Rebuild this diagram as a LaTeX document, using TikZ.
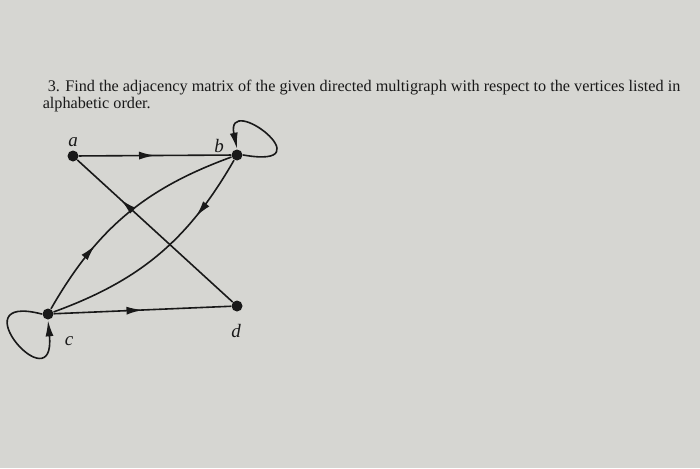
\documentclass[tikz,border=0pt]{standalone}
\usepackage{fontspec}
\setmainfont{Liberation Serif}
\usetikzlibrary{arrows.meta,decorations.markings}
\definecolor{paper}{RGB}{214,214,210}
\definecolor{ink}{RGB}{25,25,25}
\begin{document}
\begin{tikzpicture}[x=1pt,y=1pt,line join=round,line cap=round,line width=1.6pt,draw=ink]
	\tikzset{vertex/.style={circle,fill=ink,inner sep=0pt,minimum size=11pt},
		vlabel/.style={font=\fontsize{19}{21}\selectfont\itshape,text=ink},
		tip/.style={-{Latex[length=16pt,width=8pt]}},
		mid arrow/.style={postaction={decorate},decoration={markings,
			mark=at position #1 with {\arrow{Latex[length=16pt,width=8pt]}}}}}
	\fill[paper] (0,0) rectangle (700,-468);
	\useasboundingbox (0,0) rectangle (700,-468);
	% question
	\node[anchor=base west,inner sep=0pt,text=ink,font=\fontsize{16.2}{19}\selectfont] (line1) at (47,-92)
		{3. Find the adjacency matrix of the given directed multigraph with respect to the vertices listed in};
	\node[anchor=base west,inner sep=0pt,text=ink,font=\fontsize{16.2}{19}\selectfont] (line2) at (42,-109)
		{alphabetic order.};
	% vertices
	\node[vertex] (a) at (73,-156) {};
	\node[vertex] (b) at (237,-155) {};
	\node[vertex] (c) at (48,-314) {};
	\node[vertex] (d) at (237,-306) {};
	\node[vlabel] (la) at (73,-142) {a};
	\node[vlabel] (lb) at (219,-146) {b};
	\node[vlabel] (lc) at (69,-341) {c};
	\node[vlabel] (ld) at (236,-331) {d};
	% edges
	\draw[mid arrow=0.5] (a) -- (b);
	\draw[mid arrow=0.72] (d) -- (a);
	\draw[mid arrow=0.5] (c) -- (d);
	\draw[mid arrow=0.32] (c) to[bend left=20] (b);
	\draw[mid arrow=0.28] (b) to[bend left=20] (c);
	\draw[tip] (b.east) .. controls +(85,-15) and +(-12,58) .. (b.north);
	\draw[tip] (c.west) .. controls +(-85,22) and +(8,-85) .. (c.south);
\end{tikzpicture}
\end{document}
